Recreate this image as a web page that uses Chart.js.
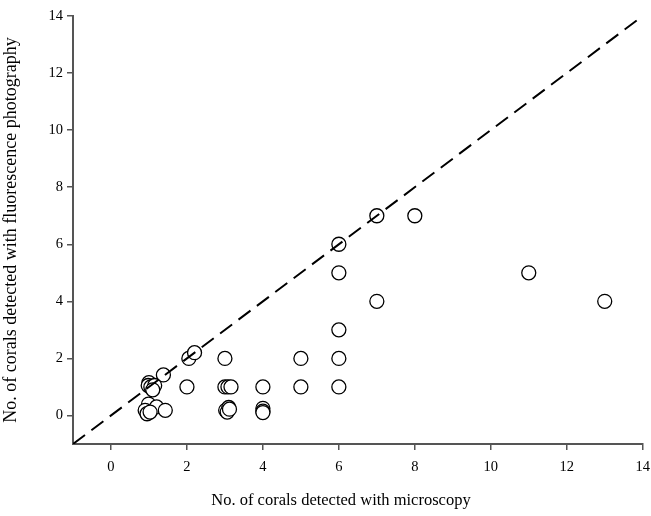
<!DOCTYPE html>
<html>
<head>
<meta charset="utf-8">
<script src="https://cdn.jsdelivr.net/npm/chart.js@4/dist/chart.umd.min.js"></script>
<style>
  html, body { margin: 0; padding: 0; background: #fff; }
</style>
</head>
<body>
<canvas id="scatter" width="651" height="516"></canvas>
<script>
// corals counted per quadrat: microscopy (x) vs fluorescence photography (y)
var microscopy = [13, 11, 8, 7, 7, 6, 6, 6, 6, 6, 5, 5, 4, 4, 4, 4,
  3, 3, 3.08, 3.16, 3.02, 3.1, 3.06, 3.12,
  2, 2.05, 2.2, 1.38,
  1, 0.98, 1.05, 1.15, 1.1,
  0.99, 1.2, 1.43, 0.9, 0.95, 1.03];
var fluorescence = [4, 5, 7, 7, 4, 6, 5, 3, 2, 1, 2, 1, 1, 0.25, 0.15, 0.1,
  2, 1, 1, 1, 0.18, 0.28, 0.12, 0.22,
  1, 2, 2.2, 1.42,
  1.15, 1.05, 1.0, 1.05, 0.9,
  0.4, 0.3, 0.18, 0.18, 0.06, 0.12];
var lineX = [-1, 14];
var tickVals = [0, 2, 4, 6, 8, 10, 12, 14];
var xTitle = 'No. of corals detected with microscopy';
var yTitle = 'No. of corals detected with fluorescence photography';

var points = microscopy.map(function (x, i) { return { x: x, y: fluorescence[i] }; });
var oneToOne = lineX.map(function (v) { return { x: v, y: v }; });

function fixTicks(scale) {
  scale.ticks = tickVals.map(function (v) { return { value: v }; });
}

var serif = "'Liberation Serif', 'Times New Roman', serif";

// x title sits a bit left of the plot centre in the original
var xTitlePlugin = {
  id: 'xTitle',
  afterDraw: function (chart) {
    var ctx = chart.ctx;
    ctx.save();
    ctx.fillStyle = '#000';
    ctx.font = '16.5px ' + serif;
    ctx.textAlign = 'center';
    ctx.textBaseline = 'middle';
    ctx.fillText(xTitle, 341, 501);
    ctx.restore();
  }
};

new Chart(document.getElementById("scatter").getContext('2d'), {
  type: 'scatter',
  data: {
    datasets: [{
      label: '1:1',
      type: 'line',
      data: oneToOne,
      borderColor: '#000',
      borderWidth: 2,
      borderDash: [15, 8],
      pointRadius: 0,
      fill: false
    }, {
      label: 'Quadrats',
      data: points,
      pointRadius: 7,
      pointBackgroundColor: '#fff',
      pointBorderColor: '#000',
      pointBorderWidth: 1.3
    }]
  },
  options: {
    responsive: false,
    animation: false,
    devicePixelRatio: 1,
    layout: { padding: { left: 0, right: 8, top: 16, bottom: 0 } },
    plugins: {
      legend: { display: false },
      tooltip: { enabled: false }
    },
    scales: {
      x: {
        type: 'linear',
        min: -1,
        max: 14,
        afterBuildTicks: fixTicks,
        afterFit: function (s) { s.height = 72; s.paddingLeft = 0; s.paddingRight = 0; },
        border: { display: true, color: '#555', width: 2 },
        grid: { drawOnChartArea: false, tickLength: 6, color: '#555', lineWidth: 1.5 },
        ticks: { color: '#000', padding: 8, font: { family: serif, size: 14.5 } },
        title: { display: false }
      },
      y: {
        type: 'linear',
        min: -1,
        max: 14,
        afterBuildTicks: fixTicks,
        afterFit: function (s) { s.width = 73; s.paddingTop = 0; s.paddingBottom = 0; },
        border: { display: true, color: '#555', width: 2 },
        grid: { drawOnChartArea: false, tickLength: 6, color: '#555', lineWidth: 1.5 },
        ticks: { color: '#000', padding: 4, font: { family: serif, size: 14.5 } },
        title: {
          display: true,
          text: yTitle,
          color: '#000',
          padding: { top: 0, bottom: 0 },
          font: { family: serif, size: 18 }
        }
      }
    }
  },
  plugins: [xTitlePlugin]
});
</script>
</body>
</html>
